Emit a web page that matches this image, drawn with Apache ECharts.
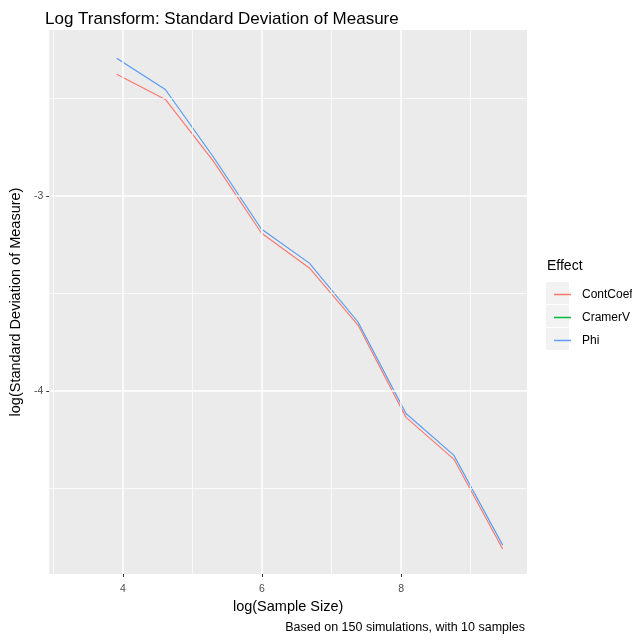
<!DOCTYPE html>
<html>
<head>
<meta charset="utf-8">
<script src="https://cdn.jsdelivr.net/npm/echarts@6/dist/echarts.min.js"></script>
<style>
  html, body { margin: 0; padding: 0; background: #ffffff; }
  #chart { width: 632px; height: 641px; }
</style>
</head>
<body>
<div id="chart"></div>
<script>
// log(sample size) for n = 50, 100, 200, ..., 12800
const logSampleSize = [3.91, 4.61, 5.30, 5.99, 6.68, 7.38, 8.07, 8.76, 9.46];

// log of the standard deviation of each effect measure
const contCoef = [-2.376, -2.505, -2.821, -3.190, -3.369, -3.662, -4.135, -4.350, -4.810];
const cramerV  = [-2.294, -2.454, -2.800, -3.169, -3.344, -3.646, -4.115, -4.330, -4.790];
const phi      = [-2.294, -2.454, -2.800, -3.169, -3.344, -3.646, -4.115, -4.330, -4.790];

const effectNames = ['ContCoef', 'CramerV', 'Phi'];
const effectValues = [contCoef, cramerV, phi];
const effectColors = ['#F8766D', '#00BA38', '#619CFF'];
const effectWidths = [1.1, 0.5, 1.1];

// axis breaks
const xMajorBreaks = [4, 6, 8];
const xMinorBreaks = [3, 5, 7, 9];
const yMajorBreaks = [-3, -4];
const yMinorBreaks = [-2.5, -3.5, -4.5];
const xRange = [2.94, 9.81];
const yRange = [-4.938, -2.149];

const FONT = '"Liberation Sans", Arial, sans-serif';

function pairs(xs, ys) {
  return xs.map((x, i) => [x, ys[i]]);
}

const gridLines = [];
xMinorBreaks.forEach(v => gridLines.push({ xAxis: v, lineStyle: { width: 0.75 } }));
yMinorBreaks.forEach(v => gridLines.push({ yAxis: v, lineStyle: { width: 0.75 } }));
xMajorBreaks.forEach(v => gridLines.push({ xAxis: v, lineStyle: { width: 1.5 } }));
yMajorBreaks.forEach(v => gridLines.push({ yAxis: v, lineStyle: { width: 1.5 } }));

const series = [{
  name: '_grid',
  type: 'line',
  data: [],
  silent: true,
  markLine: {
    silent: true,
    symbol: 'none',
    animation: false,
    label: { show: false },
    lineStyle: { color: '#FFFFFF', type: 'solid' },
    data: gridLines
  }
}];

effectNames.forEach((name, i) => {
  series.push({
    name: name,
    type: 'line',
    data: pairs(logSampleSize, effectValues[i]),
    showSymbol: false,
    symbol: 'none',
    lineStyle: { color: effectColors[i], width: effectWidths[i] },
    itemStyle: { color: effectColors[i] }
  });
});

const chart = echarts.init(document.getElementById('chart'), null, { renderer: 'canvas' });

chart.setOption({
  animation: false,
  backgroundColor: '#FFFFFF',
  title: {
    text: 'Log Transform: Standard Deviation of Measure',
    left: 40,
    top: 6,
    textStyle: { fontFamily: FONT, fontSize: 17, fontWeight: 'normal', color: '#000000' }
  },
  grid: {
    left: 46,
    right: 105,
    top: 30,
    bottom: 67,
    show: true,
    backgroundColor: '#EBEBEB',
    borderWidth: 0
  },
  legend: {
    data: effectNames,
    orient: 'vertical',
    left: 549,
    top: 278,
    itemWidth: 17,
    itemHeight: 1.5,
    itemGap: 0,
    icon: 'rect',
    selectedMode: false,
    textStyle: { fontFamily: FONT, fontSize: 12, color: '#000000', lineHeight: 23, padding: [0, 0, 0, 6] }
  },
  xAxis: {
    type: 'value',
    min: xRange[0],
    max: xRange[1],
    name: 'log(Sample Size)',
    nameLocation: 'middle',
    nameGap: 24,
    nameTextStyle: { fontFamily: FONT, fontSize: 14.5, color: '#000000' },
    axisLine: { show: false },
    axisTick: { show: true, customValues: xMajorBreaks, length: 3, lineStyle: { color: '#333333' } },
    axisLabel: { customValues: xMajorBreaks, fontFamily: FONT, fontSize: 10.5, color: '#4D4D4D', margin: 10 },
    splitLine: { show: false }
  },
  yAxis: {
    type: 'value',
    min: yRange[0],
    max: yRange[1],
    name: 'log(Standard Deviation of Measure)',
    nameLocation: 'middle',
    nameGap: 22,
    nameRotate: 90,
    nameTextStyle: { fontFamily: FONT, fontSize: 14.5, color: '#000000' },
    axisLine: { show: false },
    axisTick: { show: true, customValues: yMajorBreaks, length: 3, lineStyle: { color: '#333333' } },
    axisLabel: { customValues: yMajorBreaks, fontFamily: FONT, fontSize: 10.5, color: '#4D4D4D', margin: 6 },
    splitLine: { show: false }
  },
  graphic: [
    { type: 'text', left: 547, top: 259, style: { text: 'Effect', font: '14px ' + FONT, fill: '#000000' } },
    { type: 'rect', shape: { x: 546, y: 282, width: 23, height: 22 }, style: { fill: '#F2F2F2' }, z: -1 },
    { type: 'rect', shape: { x: 546, y: 305, width: 23, height: 22 }, style: { fill: '#F2F2F2' }, z: -1 },
    { type: 'rect', shape: { x: 546, y: 328, width: 23, height: 22 }, style: { fill: '#F2F2F2' }, z: -1 },
    { type: 'text', right: 632 - 525, top: 621, style: { text: 'Based on 150 simulations, with 10 samples', font: '12.5px ' + FONT, fill: '#000000', align: 'right' } }
  ],
  series: series
});
</script>
</body>
</html>
